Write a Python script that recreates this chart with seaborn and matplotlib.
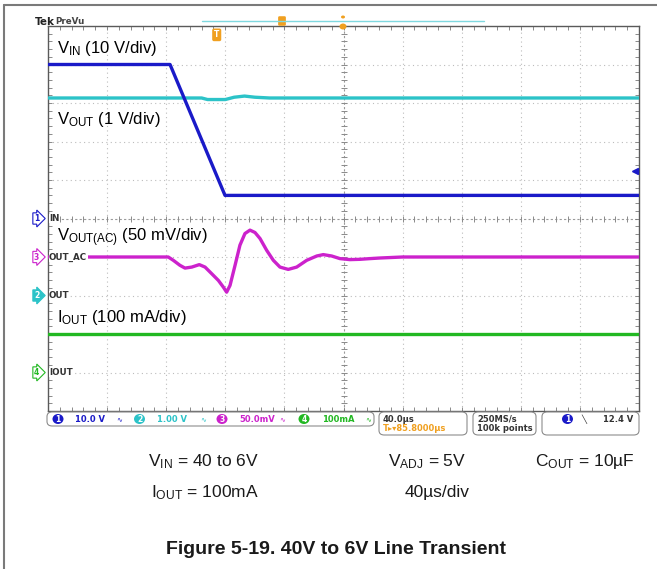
import numpy as np
import pandas as pd
import matplotlib
matplotlib.use("Agg")
import matplotlib.pyplot as plt
import seaborn as sns
from matplotlib.lines import Line2D
from matplotlib.patches import FancyBboxPatch, Ellipse, Polygon
from matplotlib.transforms import blended_transform_factory

sns.set_theme(style="white")
plt.rcParams['font.family'] = ['Liberation Sans', 'DejaVu Sans']
plt.rcParams['mathtext.fontset'] = 'custom'
plt.rcParams['mathtext.rm'] = 'Liberation Sans'
plt.rcParams['mathtext.it'] = 'Liberation Sans:italic'
plt.rcParams['mathtext.bf'] = 'Liberation Sans:bold'

# ---- acquisition: 40 us/div, 10 divisions, trigger 85.8 us left of centre ----
time_per_div = 40.0
trigger_delay = 85.8
trigger_level = 12.4

# channel 1: input voltage (V)
vin_t = [0.0, 82.6, 119.8, 400.0]
vin_v = [40.0, 40.0, 6.0, 6.0]

# channel 2: output voltage, DC coupled (V)
vout_t = [0.0, 104.0, 108.0, 120.0, 126.0, 133.0, 140.0, 150.0, 400.0]
vout_v = [5.13, 5.13, 5.09, 5.09, 5.15, 5.18, 5.15, 5.13, 5.13]

# channel 3: output voltage, AC coupled (mV)
vac_t = [0.0, 69.0, 81.4, 84.8, 89.3, 92.7, 97.3, 102.4, 106.3, 110.8, 115.3,
         118.7, 120.9, 123.2, 126.6, 129.9, 133.3, 136.7, 140.1, 143.5, 148.0,
         152.5, 157.0, 162.6, 168.3, 175.1, 181.9, 186.3, 192.0, 197.6, 204.4,
         211.2, 217.9, 224.7, 240.0, 400.0]
vac_mv = [0.0, 0.0, 0.0, -4.3, -10.8, -14.4, -13.1, -9.9, -13.1, -21.7, -30.4,
          -39.2, -45.7, -36.9, -10.8, 15.3, 30.5, 34.9, 31.8, 24.0, 8.7,
          -4.3, -13.1, -16.1, -13.1, -4.3, 1.3, 3.1, 1.3, -2.1, -3.4,
          -3.0, -2.1, -1.3, 0.0, 0.0]

# channel 4: output current (mA)
iout_t = [0.0, 400.0]
iout_ma = [100.0, 100.0]

# channel settings: name, volts-per-div, screen position (div), colour
channels = ["IN", "OUT", "OUT_AC", "IOUT"]
ch_scale = {"IN": 10.0, "OUT": 1.0, "OUT_AC": 50.0, "IOUT": 100.0}
ch_pos = {"IN": 0.0, "OUT": -2.0, "OUT_AC": -1.0, "IOUT": -4.0}
ch_color = {"IN": "#1a1ac8", "OUT": "#2cc3c8", "OUT_AC": "#cc22cc", "IOUT": "#22b822"}
ch_num = {"IN": "1", "OUT": "2", "OUT_AC": "3", "IOUT": "4"}

frames = []
for name, t, v in [("IN", vin_t, vin_v), ("OUT", vout_t, vout_v),
                   ("OUT_AC", vac_t, vac_mv), ("IOUT", iout_t, iout_ma)]:
    v = np.asarray(v, dtype=float)
    frames.append(pd.DataFrame({
        "time": t,
        "div": v / ch_scale[name] + ch_pos[name],
        "channel": name,
    }))
df = pd.concat(frames, ignore_index=True)

W, H = 657, 569
fig = plt.figure(figsize=(W / 100, H / 100), dpi=100)


def fx(x):
    return x / W


def fy(y):
    return 1 - y / H


ax = fig.add_axes([fx(48), fy(411), (639 - 48) / W, (411 - 26) / H])
ax.set_xlim(0, 10 * time_per_div)
ax.set_ylim(-5, 5)

# graticule
grid_kw = dict(color="#bcbcbc", lw=0.8, ls=(0, (1, 3)), zorder=0)
for i in range(1, 10):
    if i != 5:
        ax.axvline(i * time_per_div, **grid_kw)
for j in range(-4, 5):
    if j != 0:
        ax.axhline(j, **grid_kw)
ax.axvline(5 * time_per_div, color="#9a9a9a", lw=0.8, ls=(0, (2, 2)), zorder=0)
ax.axhline(0, color="#9a9a9a", lw=0.8, ls=(0, (2, 2)), zorder=0)
minor_x = np.arange(0, 401, time_per_div / 5)
minor_y = np.arange(-5, 5.01, 0.2)
ax.plot(minor_x, np.zeros_like(minor_x), ls="none", marker="|", ms=4,
        mew=0.7, color="#8a8a8a", zorder=0)
ax.plot(np.full_like(minor_y, 200.0), minor_y, ls="none", marker="_", ms=4,
        mew=0.7, color="#8a8a8a", zorder=0)

ax.set_xticks(np.arange(0, 401, time_per_div))
ax.set_xticks(minor_x, minor=True)
ax.set_yticks(np.arange(-5, 6, 1))
ax.set_yticks(minor_y, minor=True)
ax.tick_params(which="both", direction="in", length=3, width=0.6,
               color="#777777", top=True, right=True, bottom=True, left=True,
               labelbottom=False, labelleft=False)
for s in ax.spines.values():
    s.set_color("#5a5a5a")
    s.set_linewidth(1.0)

# traces
sns.lineplot(data=df, x="time", y="div", hue="channel",
             hue_order=["OUT", "IN", "OUT_AC", "IOUT"], palette=ch_color,
             estimator=None, sort=False, legend=False, lw=2.4, ax=ax, zorder=3)
ax.set_xlabel("")
ax.set_ylabel("")

# trace annotations
lab_kw = dict(fontsize=12, color="black", va="baseline", ha="left", zorder=5)
ax.text(6.1, 4.29, r"V$_{\mathregular{IN}}$ (10 V/div)", **lab_kw)
ax.text(6.1, 2.45, r"V$_{\mathregular{OUT}}$ (1 V/div)", **lab_kw)
ax.text(6.1, -0.60, r"V$_{\mathregular{OUT(AC)}}$ (50 mV/div)", **lab_kw)
ax.text(6.1, -2.68, r"I$_{\mathregular{OUT}}$ (100 mA/div)", **lab_kw)

# channel reference markers on the left edge
mk_tr = blended_transform_factory(fig.transFigure, ax.transData)
for name in channels:
    c = ch_color[name]
    filled = name == "OUT"
    fig.text(fx(34), ch_pos[name], ch_num[name], transform=mk_tr,
             fontsize=5.5, fontweight="bold", family="DejaVu Sans",
             color="white" if filled else c, ha="left", va="center",
             bbox=dict(boxstyle="rarrow,pad=0.15", fc=c if filled else "white",
                       ec=c, lw=0.8))
    fig.text(fx(49), ch_pos[name], name, transform=mk_tr, fontsize=6.3,
             fontweight="bold", family="DejaVu Sans", color="#333333",
             ha="left", va="center",
             bbox=dict(boxstyle="square,pad=0.05", fc="white", ec="none"),
             zorder=6)

# trigger level arrow on the right edge
ax.plot([397.5], [trigger_level / ch_scale["IN"] + ch_pos["IN"]], marker="<",
        ms=4.5, color=ch_color["IN"], ls="none", clip_on=False, zorder=4)

# trigger position marker
orange = "#f0a020"
trig_t = 5 * time_per_div - trigger_delay
ax.text(trig_t, 4.77, "T", fontsize=5.5, fontweight="bold", color="white",
        family="DejaVu Sans", ha="center", va="center",
        bbox=dict(boxstyle="round,pad=0.15", fc=orange, ec=orange))

# header strip
fig.text(fx(35), fy(22), "Tek", fontsize=7.5, fontweight="bold",
         color="#222222", family="DejaVu Sans", va="center", ha="left")
fig.text(fx(55), fy(22), "PreVu", fontsize=6.3, fontweight="bold",
         color="#444444", family="DejaVu Sans", va="center", ha="left")
fig.add_artist(Line2D([fx(202), fx(484)], [fy(21), fy(21)],
                      transform=fig.transFigure, color="#7fd8e0", lw=1.0))
fig.add_artist(FancyBboxPatch((fx(279.5), fy(24.5)), 5 / W, 7 / H,
                              boxstyle="round,pad=0.001",
                              transform=fig.transFigure, fc=orange, ec=orange))
fig.add_artist(Ellipse((fx(343), fy(17)), 4 / W, 3 / H,
                       transform=fig.transFigure, fc=orange, ec="none"))
fig.add_artist(Ellipse((fx(343), fy(26.5)), 7 / W, 6 / H,
                       transform=fig.transFigure, fc=orange, ec="none", zorder=5))

# status bar
sb_font = dict(fontsize=6, fontweight="bold", family="DejaVu Sans", va="center",
               ha="left")


def sb_box(x0, x1, y0, y1):
    fig.add_artist(FancyBboxPatch((fx(x0), fy(y1)), (x1 - x0) / W, (y1 - y0) / H,
                                  boxstyle="round,pad=0,rounding_size=0.008",
                                  transform=fig.transFigure, fc="white",
                                  ec="#8c8c8c", lw=0.8))


def sb_badge(x, y, num, color):
    fig.add_artist(Ellipse((fx(x), fy(y)), 11 / W, 10 / H,
                           transform=fig.transFigure, fc=color, ec="none"))
    fig.text(fx(x), fy(y), num, fontsize=5.5, fontweight="bold", color="white",
             family="DejaVu Sans", ha="center", va="center")


row = 419
sb_box(47, 374, 412, 426)
sb_box(379, 467, 412, 435)
sb_box(473, 536, 412, 435)
sb_box(542, 639, 412, 435)

readouts = [("IN", 58, 75, "10.0 V", 119), ("OUT", 139.5, 157, "1.00 V", 203),
            ("OUT_AC", 222, 239, "50.0mV", 282), ("IOUT", 304, 322.5, "100mA", 368)]
for name, bx, tx, txt, sx in readouts:
    c = ch_color[name]
    sb_badge(bx, row, ch_num[name], c)
    fig.text(fx(tx), fy(row), txt, color=c, **sb_font)
    fig.text(fx(sx), fy(row), "\u223f", color=c, fontsize=5,
             family="DejaVu Sans", ha="center", va="center")

fig.text(fx(383), fy(row), "40.0\u00b5s", color="#333333", **sb_font)
fig.text(fx(383), fy(428.5), "T\u25b8\u25be85.8000\u00b5s", color=orange, **sb_font)
fig.text(fx(477), fy(row), "250MS/s", color="#333333", **sb_font)
fig.text(fx(477), fy(428.5), "100k points", color="#333333", **sb_font)
sb_badge(567.5, row, "1", ch_color["IN"])
fig.text(fx(584), fy(row), "\u2572", color="#333333", fontsize=6,
         family="DejaVu Sans", ha="center", va="center")
fig.text(fx(603), fy(row), "12.4 V", color="#333333", **sb_font)

# test conditions
cond_kw = dict(fontsize=12.5, color="#1a1a1a", va="baseline", ha="left")
fig.text(fx(148), fy(466), r"V$_{\mathregular{IN}}$ = 40 to 6V", **cond_kw)
fig.text(fx(388), fy(466), r"V$_{\mathregular{ADJ}}$ = 5V", **cond_kw)
fig.text(fx(535), fy(466), r"C$_{\mathregular{OUT}}$ = 10µF", **cond_kw)
fig.text(fx(151), fy(497), r"I$_{\mathregular{OUT}}$ = 100mA", **cond_kw)
fig.text(fx(405), fy(497), "40µs/div", **cond_kw)

fig.text(fx(336), fy(554), "Figure 5-19. 40V to 6V Line Transient",
         fontsize=14, fontweight="bold", color="#1a1a1a", ha="center",
         va="baseline")

# page frame
fig.add_artist(Line2D([fx(4), fx(4)], [0, fy(5)], transform=fig.transFigure,
                      color="#7a7a7a", lw=1.5))
fig.add_artist(Line2D([fx(4), 1], [fy(5), fy(5)], transform=fig.transFigure,
                      color="#7a7a7a", lw=1.5))

fig.savefig("out.png", dpi=100, facecolor="white")
